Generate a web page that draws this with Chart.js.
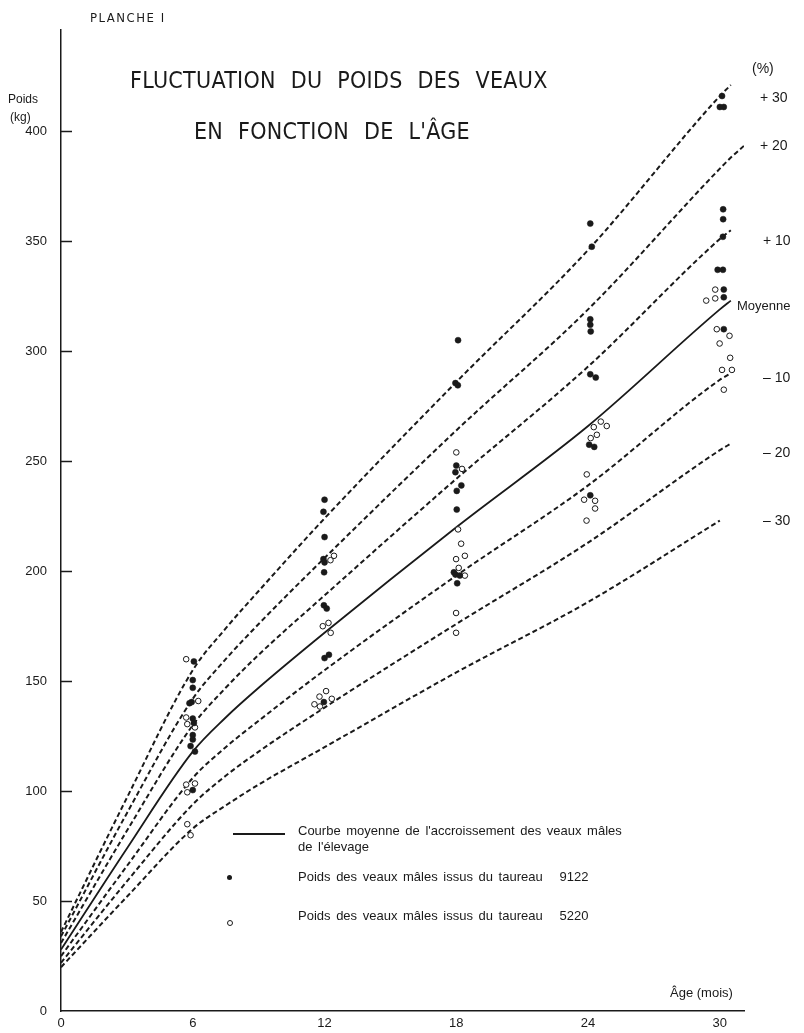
<!DOCTYPE html>
<html lang="fr">
<head>
<meta charset="utf-8">
<title>Planche I</title>
<script src="https://cdn.jsdelivr.net/npm/chart.js@4.4.0/dist/chart.umd.min.js"></script>
<style>
  body { margin: 0; background: #fff; }
  #wrap { position: relative; width: 804px; height: 1033px; color: #1a1a1a;
          font-family: "Liberation Sans", Arial, sans-serif; }
  #wrap canvas { position: absolute; left: 0; top: 0; }
  .t { position: absolute; white-space: nowrap; line-height: 1; }
  .narrow { font-family: "Liberation Sans Narrow", "DejaVu Sans Condensed", "Liberation Sans", sans-serif; }
  .titre { font-size: 23px; word-spacing: 8px; letter-spacing: 0.3px; }
  .leg { font-size: 13px; word-spacing: 2px; }
  .pct { font-size: 14px; }
  .dot { position: absolute; border-radius: 50%; }
</style>
</head>
<body>
<div id="wrap">
  <canvas id="chart" width="804" height="1033"></canvas>

  <div class="t narrow" style="left:90px;top:11px;font-size:13px;letter-spacing:1.5px">PLANCHE I</div>
  <div class="t" style="left:8px;top:93px;font-size:12px">Poids</div>
  <div class="t" style="left:10px;top:111px;font-size:12px">(kg)</div>

  <div class="t narrow titre" style="left:130px;top:69px">FLUCTUATION DU POIDS DES VEAUX</div>
  <div class="t narrow titre" style="left:194px;top:120px">EN FONCTION DE L'ÂGE</div>

  <div class="t pct" style="left:752px;top:61px">(%)</div>
  <div class="t pct" style="left:760px;top:90px">+ 30</div>
  <div class="t pct" style="left:760px;top:138px">+ 20</div>
  <div class="t pct" style="left:763px;top:233px">+ 10</div>
  <div class="t" style="left:737px;top:299px;font-size:13px">Moyenne</div>
  <div class="t pct" style="left:763px;top:370px">– 10</div>
  <div class="t pct" style="left:763px;top:445px">– 20</div>
  <div class="t pct" style="left:763px;top:513px">– 30</div>

  <div class="t" style="left:670px;top:986px;font-size:13px">Âge (mois)</div>

  <div style="position:absolute;left:233px;top:833px;width:52px;height:2px;background:#1a1a1a"></div>
  <div class="t leg" style="left:298px;top:824px">Courbe moyenne de l'accroissement des veaux mâles</div>
  <div class="t leg" style="left:298px;top:840px">de l'élevage</div>
  <div class="dot" style="left:227px;top:875px;width:5px;height:5px;background:#1a1a1a"></div>
  <div class="t leg" style="left:298px;top:870px">Poids des veaux mâles issus du taureau&nbsp;&nbsp; 9122</div>
  <div class="dot" style="left:227px;top:920px;width:4px;height:4px;border:1px solid #1a1a1a"></div>
  <div class="t leg" style="left:298px;top:909px">Poids des veaux mâles issus du taureau&nbsp;&nbsp; 5220</div>
</div>

<script>
"use strict";

const months = [0, 3, 6, 7.5, 9, 12, 18, 24, 30, 30.5, 31.4];
const plus30 = [36, 97, 155, 174, 191, 224, 286, 346, 416, 421, null];
const plus20 = [34, 90, 142, 160, 176, 206, 264, 319, 383, 388, 396];
const plus10 = [31, 82, 130, 147, 162, 189, 242, 293, 351, 355, null];
const moyenne = [28, 74, 118, 133.5, 147, 172, 220, 266, 319, 323, null];
const minus10 = [25, 66, 106, 120, 132, 155, 198, 239, 287, 290, null];
const minus20 = [22, 59, 94, 107, 118, 138, 176, 213, 255, 258, null];
const minus30 = [20, 52, 83, 93.5, 103, 120, 154, 186, 223, null, null];

// veaux mâles issus du taureau 9122 (points noirs)
const t9122Age = [
  6.05, 6.0, 6.0, 5.95, 5.85, 6.0, 6.05, 6.0, 6.0, 5.9, 6.1, 6.0,
  12.0, 11.95, 12.0, 11.95, 12.0, 11.98, 11.97, 12.1, 12.2, 12.0, 11.97,
  18.08, 17.96, 18.07, 18.0, 17.96, 18.23, 18.02, 18.02, 17.89, 17.96, 18.16, 18.04,
  24.1, 24.17, 24.1, 24.1, 24.12, 24.1, 24.35, 24.05, 24.28, 24.1,
  30.1, 30.18, 30.0, 30.15, 30.15, 30.14, 29.9, 30.14, 30.18, 30.18, 30.18,
];
const t9122Poids = [
  159, 150.5, 147, 140.5, 140, 133, 131, 125.5, 123.5, 120.5, 118, 100.5,
  232.5, 227, 215.5, 205.5, 204, 199.5, 184.5, 183, 162, 160.5, 140.5,
  305, 285.5, 284.5, 248, 245, 239, 236.5, 228, 199.5, 198.5, 198, 194.5,
  358, 347.5, 314.5, 312, 309, 289.5, 288, 257.5, 256.5, 234.5,
  416, 411, 411, 364.5, 360, 352, 337, 337, 328, 324.5, 310,
];

// veaux mâles issus du taureau 5220 (cercles)
const t5220Age = [
  5.7, 6.25, 5.7, 5.75, 6.1, 5.7, 6.1, 5.75, 5.75, 5.9,
  12.43, 12.27, 12.18, 11.92, 12.28, 12.07, 11.77, 12.33, 11.54, 11.79,
  18.0, 18.26, 18.08, 18.22, 18.39, 17.99, 18.11, 18.39, 17.99, 17.99,
  24.58, 24.85, 24.26, 24.4, 24.12, 23.94, 23.82, 24.32, 24.32, 23.93,
  29.79, 29.79, 29.38, 29.86, 30.44, 29.99, 30.47, 30.1, 30.55, 30.18,
];
const t5220Poids = [
  160, 141, 133.5, 130.5, 129, 103, 103.5, 99.5, 85, 80,
  207, 205, 176.5, 175, 172, 145.5, 143, 142, 139.5, 138.5,
  254, 246.5, 219, 212.5, 207, 205.5, 201.5, 198, 181, 172,
  268, 266, 265.5, 262, 260.5, 244, 232.5, 232, 228.5, 223,
  328, 324, 323, 310, 307, 303.5, 297, 291.5, 291.5, 282.5,
];

const xTicks = [0, 6, 12, 18, 24, 30];
const yTicks = [0, 50, 100, 150, 200, 250, 300, 350, 400];

const ink = "#1a1a1a";

function pairs(xs, ys) {
  const out = [];
  xs.forEach((x, i) => {
    if (ys[i] !== null) out.push({ x: x, y: ys[i] });
  });
  return out;
}

function courbe(label, values, dashed) {
  return {
    label: label,
    data: pairs(months, values),
    showLine: true,
    borderColor: ink,
    borderWidth: dashed ? 2 : 1.8,
    borderDash: dashed ? [5, 3] : [],
    pointRadius: 0,
    cubicInterpolationMode: "monotone",
    fill: false,
  };
}

// petits traits de graduation vers l'intérieur sur l'axe des poids
const tickMarks = {
  id: "tickMarks",
  afterDraw(chart) {
    const ctx = chart.ctx;
    const y = chart.scales.y;
    const left = chart.chartArea.left;
    ctx.save();
    ctx.strokeStyle = ink;
    ctx.lineWidth = 1.5;
    yTicks.forEach((v) => {
      if (v === 0) return;
      const py = Math.round(y.getPixelForValue(v)) + 0.5;
      ctx.beginPath();
      ctx.moveTo(left, py);
      ctx.lineTo(left + 11, py);
      ctx.stroke();
    });
    ctx.restore();
  },
};

const chartCxt = document.querySelector("#chart").getContext("2d");
new Chart(chartCxt, {
  type: "scatter",
  data: {
    datasets: [
      {
        label: "taureau 9122",
        data: pairs(t9122Age, t9122Poids),
        pointRadius: 3,
        pointBackgroundColor: ink,
        pointBorderColor: ink,
        pointBorderWidth: 0.5,
      },
      {
        label: "taureau 5220",
        data: pairs(t5220Age, t5220Poids),
        pointRadius: 2.8,
        pointBackgroundColor: "#fff",
        pointBorderColor: ink,
        pointBorderWidth: 1,
      },
      courbe("Moyenne", moyenne, false),
      courbe("+30", plus30, true),
      courbe("+20", plus20, true),
      courbe("+10", plus10, true),
      courbe("-10", minus10, true),
      courbe("-20", minus20, true),
      courbe("-30", minus30, true),
    ],
  },
  options: {
    responsive: false,
    animation: false,
    layout: { padding: { left: 0, right: 60, top: 30, bottom: 0 } },
    plugins: {
      legend: { display: false },
      tooltip: { enabled: false },
    },
    scales: {
      x: {
        type: "linear",
        min: 0,
        max: 31.1,
        afterBuildTicks: (s) => { s.ticks = xTicks.map((v) => ({ value: v })); },
        afterFit: (s) => { s.height = 20; },
        grid: { display: false, drawTicks: false },
        border: { display: true, color: ink, width: 1.5 },
        ticks: { padding: 4, color: ink, font: { size: 13, family: "Liberation Sans" } },
      },
      y: {
        min: 0,
        max: 446,
        afterBuildTicks: (s) => { s.ticks = yTicks.map((v) => ({ value: v })); },
        afterFit: (s) => { s.width = 61; },
        grid: { display: false, drawTicks: false },
        border: { display: true, color: ink, width: 1.5 },
        ticks: { padding: 14, color: ink, font: { size: 13, family: "Liberation Sans" } },
      },
    },
  },
  plugins: [tickMarks],
});
</script>
</body>
</html>
